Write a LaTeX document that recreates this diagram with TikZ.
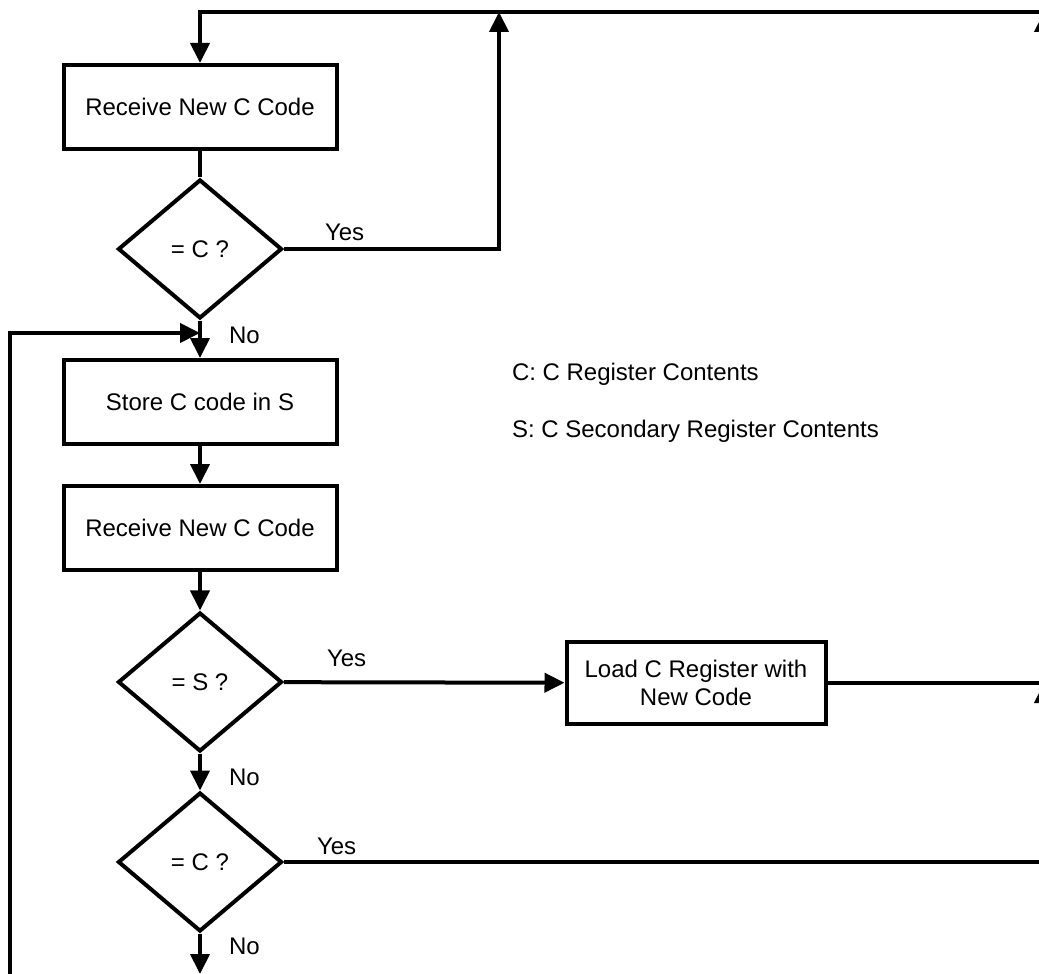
\documentclass[tikz,border=0pt]{standalone}
\usepackage{fontspec}
\setmainfont{Liberation Sans}
\usetikzlibrary{shapes.geometric,arrows.meta}
\tikzset{
  box/.style={draw, rectangle, minimum width=273pt, minimum height=84pt, inner sep=0pt, align=center},
  decision/.style={draw, diamond, minimum width=164pt, minimum height=139pt, inner sep=0pt},
  lbl/.style={anchor=base west, inner sep=0pt}
}

\begin{document}
\begin{tikzpicture}[x=1pt, y=-1pt, line width=4pt, >={Triangle[length=20pt,width=19pt]}, font=\fontsize{24}{28}\selectfont]
\useasboundingbox (0,0) rectangle (1039,974);
\clip (0,0) rectangle (1039,974);
% Steps:
\node (recvA) [box] at (200,107) {Receive New C Code};
\node (eqCa) [decision] at (200,249) {= C ?};
\node (store) [box] at (200,402) {Store C code in S};
\node (recvB) [box] at (200,528) {Receive New C Code};
\node (eqS) [decision] at (200,682) {= S ?};
\node (load) [box, minimum width=259pt, minimum height=82pt] at (696,683) {Load C Register with\\New Code};
\node (eqCb) [decision] at (200,862) {= C ?};
% Corners off the page:
\coordinate (topR) at (1050,12);
\coordinate (jTop) at (499,12);
\coordinate (rUp) at (1044,12);
\coordinate (rMid) at (1044,683);
\coordinate (jNo) at (200,333);
\coordinate (loopB) at (10,1000);
\coordinate (endB) at (200,974);
% Flow:
\draw[->] (topR) -| (recvA);
\draw (recvA) -- (eqCa);
\draw[->] (eqCa.east) -| (jTop);
\draw[->] (eqCa) -- (store);
\draw[->] (loopB) |- (jNo);
\draw[->] (store) -- (recvB);
\draw[->] (recvB) -- (eqS);
\draw[->] (eqS) -- (load);
\draw[->] (load.east) -| (rUp);
\draw[->] (eqS) -- (eqCb);
\draw[->] (eqCb.east) -| (rMid);
\draw[->] (eqCb) -- (endB);
% Labels:
\node (yesA) [lbl] at (323,240) {Yes};
\node (noA) [lbl] at (227,343) {No};
\node (yesB) [lbl] at (325,666) {Yes};
\node (noB) [lbl] at (227,785) {No};
\node (yesC) [lbl] at (315,854) {Yes};
\node (noC) [lbl] at (227,954) {No};
\node (keyC) [lbl] at (510,380) {C: C Register Contents};
\node (keyS) [lbl] at (510,437) {S: C Secondary Register Contents};
\end{tikzpicture}
\end{document}
